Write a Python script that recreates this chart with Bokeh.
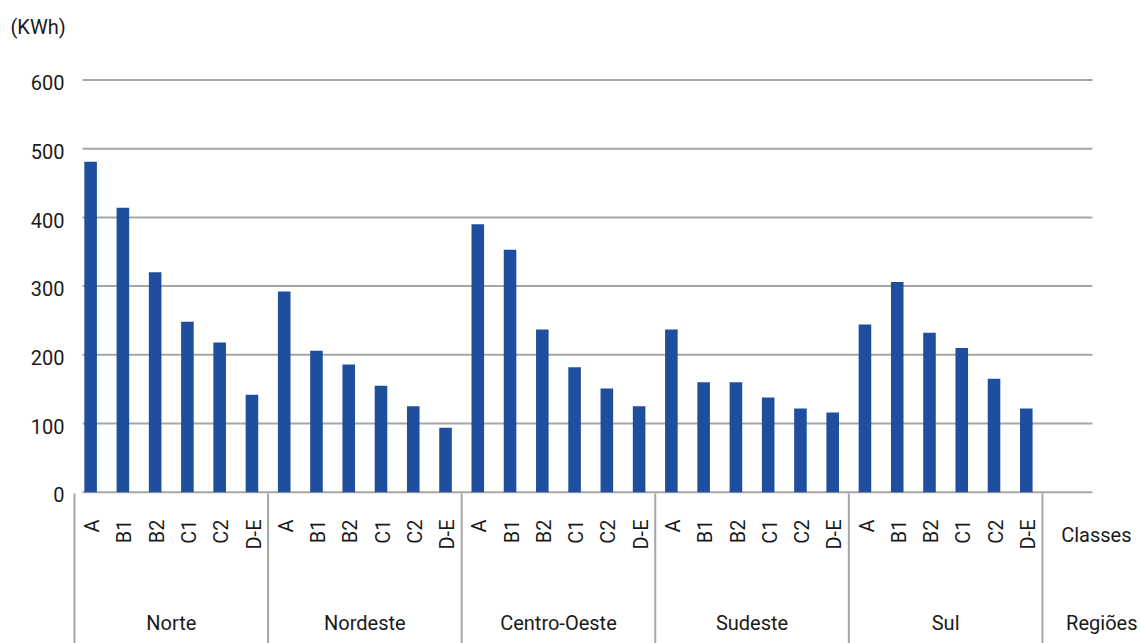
import math
from bokeh.plotting import figure
from bokeh.models import Range1d, ColumnDataSource
from bokeh.core.properties import value
from bokeh.embed import file_html
from bokeh.resources import INLINE

# ---- data ----
regions = ["Norte", "Nordeste", "Centro-Oeste", "Sudeste", "Sul"]
classes = ["A", "B1", "B2", "C1", "C2", "D-E"]
norte = [481, 414, 320, 248, 218, 142]
nordeste = [292, 206, 186, 155, 125, 94]
centro_oeste = [390, 353, 237, 182, 151, 125]
sudeste = [237, 160, 160, 138, 122, 116]
sul = [244, 306, 232, 210, 165, 122]
y_ticks = [0, 100, 200, 300, 400, 500, 600]
unit_label = "(KWh)"
classes_title = "Classes"
regions_title = "Regiões"

series = [norte, nordeste, centro_oeste, sudeste, sul]
n_cls = len(classes)

# ---- style ----
FONT = value("Roboto")
FS = value("20px")
BAR = "#204E9F"
GRID = "#a6a6a6"
TXT = "#1a1a1a"

xs, tops, labs = [], [], []
for g, vals in enumerate(series):
    for k, v in enumerate(vals):
        xs.append(g * n_cls + k + 0.5)
        tops.append(v)
        labs.append(classes[k])

src = ColumnDataSource(dict(x=xs, top=tops, lab=labs, lx=[x + 0.05 for x in xs]))

p = figure(width=1140, height=643, output_backend="svg", toolbar_location=None,
           title=None, x_range=Range1d(-2.293, 33.04), y_range=Range1d(-220.2, 715.7),
           x_axis_location=None, y_axis_location=None,
           min_border_left=0, min_border_top=0, min_border_bottom=0, min_border_right=0)
p.outline_line_color = None
p.xgrid.visible = False
p.ygrid.visible = False

# gridlines (0 line acts as axis)
g_x0, g_x1 = 0.25, 31.55
p.segment(x0=[g_x0] * len(y_ticks), x1=[g_x1] * len(y_ticks), y0=y_ticks, y1=y_ticks,
          line_color=GRID, line_width=2)

# y tick labels
p.text(x=[-0.31] * len(y_ticks), y=[t - 4 for t in y_ticks], text=[str(t) for t in y_ticks],
       text_align="right", text_baseline="middle", text_font=FONT,
       text_font_size=FS, text_color=TXT)

# bars
p.vbar(x="x", top="top", bottom=0, width=0.39, source=src, fill_color=BAR, line_color=None)

# group separators
seps = [g * n_cls for g in range(len(regions) + 1)]
p.segment(x0=seps, x1=seps, y0=[-2] * len(seps), y1=[-260] * len(seps),
          line_color=GRID, line_width=2)

# class labels (rotated)
p.text(x="lx", y=-39.7, text="lab", source=src, angle=math.pi / 2,
       text_align="right", text_baseline="middle", text_font=FONT,
       text_font_size=FS, text_color=TXT)

# region labels
rx = [g * n_cls + n_cls / 2 for g in range(len(regions))]
p.text(x=rx, y=[-190.7] * len(rx), text=regions, text_align="center",
       text_baseline="alphabetic", text_font=FONT, text_font_size=FS, text_color=TXT)

# row titles
p.text(x=[31.67, 31.84], y=[-63.0, -190.7], text=[classes_title, regions_title],
       text_align="center", text_baseline="alphabetic", text_font=FONT,
       text_font_size=FS, text_color=TXT)

# unit label
p.text(x=[-1.983], y=[676.9], text=[unit_label], text_align="left",
       text_baseline="alphabetic", text_font=FONT, text_font_size=FS, text_color=TXT)

open("out.html", "w").write(file_html(p, INLINE))
